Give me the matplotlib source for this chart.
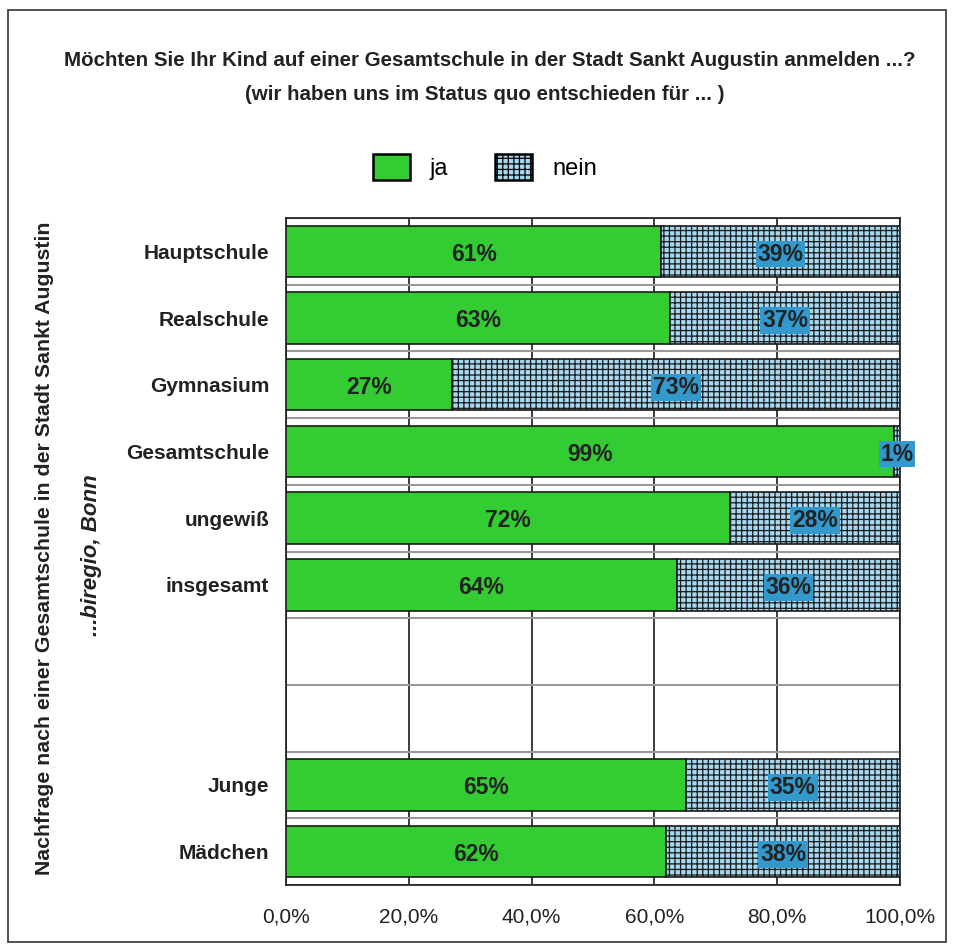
import matplotlib
matplotlib.use("Agg")
import matplotlib.pyplot as plt
from matplotlib.patches import Patch, Rectangle
import numpy as np

categories = ["Hauptschule", "Realschule", "Gymnasium", "Gesamtschule", "ungewiß",
              "insgesamt", "", "", "Junge", "Mädchen"]
ja = [61.1, 62.6, 27.0, 99.0, 72.3, 63.7, None, None, 65.1, 61.9]
nein = [38.9, 37.4, 73.0, 1.0, 27.7, 36.3, None, None, 34.9, 38.1]
xticks = [0, 20, 40, 60, 80, 100]
xticklabels = ["0,0%", "20,0%", "40,0%", "60,0%", "80,0%", "100,0%"]
title1 = "Möchten Sie Ihr Kind auf einer Gesamtschule in der Stadt Sankt Augustin anmelden ...?"
title2 = "(wir haben uns im Status quo entschieden für ... )"
ylabel1 = "Nachfrage nach einer Gesamtschule in der Stadt Sankt Augustin"
ylabel2 = "...biregio, Bonn"

GREEN = "#33cc33"
LIGHTBLUE = "#a6d8f0"
LABELBLUE = "#3399cc"
SANS = ["Liberation Sans", "DejaVu Sans"]
HATCH = "+++"

plt.rcParams["hatch.color"] = "#111111"
plt.rcParams["hatch.linewidth"] = 0.9

fig = plt.figure(figsize=(9.54, 9.48), dpi=100)
W, H = 954, 948
ax = fig.add_axes([286 / W, 1 - 885 / H, 614 / W, 667 / H])

y = np.arange(len(categories))
for i, (a, b) in enumerate(zip(ja, nein)):
    if a is None:
        continue
    ax.barh(i, a, height=0.77, color=GREEN, edgecolor="#1a1a1a", linewidth=1.2, zorder=3)
    ax.barh(i, b, left=a, height=0.77, color=LIGHTBLUE, edgecolor="#1a1a1a",
            linewidth=1.2, hatch=HATCH, zorder=3)
    ax.text(a / 2, i + 0.04, f"{round(a)}%", ha="center", va="center", fontsize=16.5,
            fontweight="bold", family=SANS, color="#222222", zorder=5)
    ax.text(a + b / 2, i + 0.04, f"{round(b)}%", ha="center", va="center", fontsize=16.5,
            fontweight="bold", family=SANS, color="#222222", zorder=5,
            bbox=dict(boxstyle="square,pad=0.08", facecolor=LABELBLUE, edgecolor="none"))

ax.set_xlim(0, 100)
ax.set_ylim(len(categories) - 0.5, -0.5)
ax.set_yticks(y)
ax.set_yticklabels(categories, fontsize=15, fontweight="bold", family=SANS, color="#222222")
ax.set_xticks(xticks)
ax.set_xticklabels(xticklabels, fontsize=15, family=SANS, color="#222222")
ax.tick_params(axis="y", length=0, pad=12)
ax.tick_params(axis="x", length=0, pad=16)
ax.set_yticks(np.arange(-0.5, len(categories), 1.0), minor=True)
ax.tick_params(axis="y", which="minor", length=0)
ax.grid(axis="x", which="major", color="#1a1a1a", linewidth=1.2, zorder=0)
ax.grid(axis="y", which="minor", color="#999999", linewidth=1.5, zorder=0)
ax.grid(axis="y", which="major", visible=False)
ax.set_axisbelow(True)
for s in ax.spines.values():
    s.set_color("#1a1a1a")
    s.set_linewidth(1.2)

fig.text(490 / W, 1 - 60 / H, title1, ha="center", va="center", fontsize=14.8,
         fontweight="bold", family=SANS, color="#222222")
fig.text(485 / W, 1 - 95 / H, title2, ha="center", va="center", fontsize=14.8,
         fontweight="bold", family=SANS, color="#222222")

fig.text(45 / W, 1 - 548 / H, ylabel1, rotation=90, ha="center", va="center",
         fontsize=15.3, fontweight="bold", family=SANS, color="#222222")
fig.text(92 / W, 1 - 555 / H, ylabel2, rotation=90, ha="center", va="center",
         fontsize=16, fontweight="bold", style="italic", family=SANS, color="#222222")

handles = [Patch(facecolor=GREEN, edgecolor="black", linewidth=1.8, label="ja"),
           Patch(facecolor=LIGHTBLUE, edgecolor="black", linewidth=1.8, hatch=HATCH, label="nein")]
leg = fig.legend(handles=handles, loc="center", bbox_to_anchor=(485 / W, 1 - 167 / H),
                 ncol=2, frameon=False, handlelength=1.55, handleheight=1.35,
                 columnspacing=2.0, handletextpad=0.85, prop={"family": SANS, "size": 17})

fig.patches.append(Rectangle((8 / W, 1 - 942 / H), 938 / W, 932 / H, transform=fig.transFigure,
                             fill=False, edgecolor="#333333", linewidth=1.2))

fig.savefig("out.png", dpi=100)
